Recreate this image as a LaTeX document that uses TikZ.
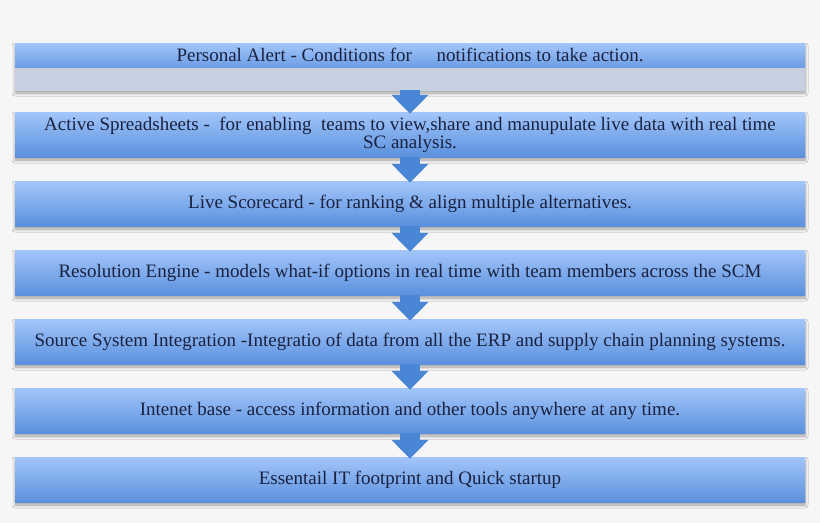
\documentclass[tikz,border=0pt]{standalone}
\usepackage{fontspec}
\setmainfont{Liberation Serif}
\usetikzlibrary{arrows.meta,shadows.blur}

\definecolor{boxtop}{HTML}{A2C6FA}
\definecolor{boxbottom}{HTML}{5B90DD}
\definecolor{padcolor}{HTML}{C6D0E0}
\definecolor{arrowblue}{HTML}{4A86D6}
\definecolor{textnavy}{HTML}{1A2240}
\definecolor{paper}{HTML}{F6F6F6}

\tikzset{
  boxtext/.style={top color=boxtop, bottom color=boxbottom, minimum width=790pt,
    minimum height=45pt, inner sep=0pt, text=textnavy, align=center,
    font=\fontsize{19}{16}\selectfont},
  stepbox/.style={boxtext,
    blur shadow={shadow xshift=0pt, shadow yshift=-3pt, shadow blur radius=3pt,
      shadow blur steps=8, shadow opacity=35}},
  flowarrow/.style={arrowblue, line width=20pt, -{Triangle[width=36pt,length=19pt]}}
}

\begin{document}
\begin{tikzpicture}[x=1pt, y=-1pt]
    \fill[paper] (0,0) rectangle (820,523);
    \useasboundingbox (0,0) rectangle (820,523);
    % first step: text strip over a pale pad
    \node[stepbox, top color=padcolor, bottom color=padcolor, minimum height=47pt] (alert) at (410,66.5) {};
    \node[boxtext, minimum height=24pt, anchor=north, bottom color=boxbottom!75!boxtop] (alerttext) at (alert.north) {Personal Alert - Conditions for \hspace{0.8em} notifications to take action.};
    \node[stepbox] (sheets) at (410,134.5) {Active Spreadsheets - \ for enabling \ teams to view,share and manupulate live data with real time\\SC analysis.};
    \node[stepbox] (scorecard) at (410,203.5) {Live Scorecard - for ranking \& align multiple alternatives.};
    \node[stepbox] (engine) at (410,272.5) {Resolution Engine - models what-if options in real time with team members across the SCM};
    \node[stepbox] (source) at (410,341.5) {Source System Integration -Integratio of data from all the ERP and supply chain planning systems.};
    \node[stepbox] (internet) at (410,410.5) {Intenet base - access information and other tools anywhere at any time.};
    \node[stepbox] (footprint) at (410,479.5) {Essentail IT footprint and Quick startup};
    % arrows between the steps
    \draw[flowarrow] (alert.south) -- ([yshift=-2pt]sheets.north);
    \draw[flowarrow] (sheets.south) -- ([yshift=-2pt]scorecard.north);
    \draw[flowarrow] (scorecard.south) -- ([yshift=-2pt]engine.north);
    \draw[flowarrow] (engine.south) -- ([yshift=-2pt]source.north);
    \draw[flowarrow] (source.south) -- ([yshift=-2pt]internet.north);
    \draw[flowarrow] (internet.south) -- ([yshift=-2pt]footprint.north);
\end{tikzpicture}
\end{document}
